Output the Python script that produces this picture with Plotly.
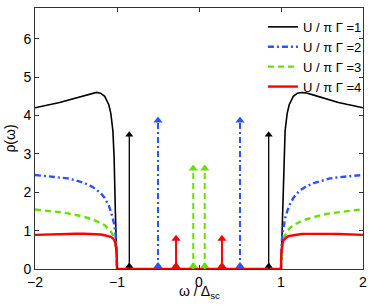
import plotly.graph_objects as go

# Continuum (|omega| >= 1); spectrum is symmetric in omega
omega_pos = [1.0, 1.004, 1.01, 1.02, 1.035, 1.05, 1.075, 1.1, 1.15, 1.2, 1.25,
             1.3, 1.4, 1.5, 1.6, 1.7, 1.8, 1.9, 2.0]
rho_u1 = [0.0, 0.3, 0.6, 1.5, 2.9, 3.6, 4.05, 4.28, 4.5, 4.58, 4.6, 4.59, 4.53,
          4.46, 4.4, 4.34, 4.29, 4.24, 4.2]
rho_u2 = [0.0, 0.5, 0.72, 0.95, 1.18, 1.32, 1.5, 1.65, 1.85, 1.98, 2.07, 2.14,
          2.24, 2.31, 2.36, 2.39, 2.41, 2.43, 2.45]
rho_u3 = [0.0, 0.35, 0.5, 0.66, 0.8, 0.88, 0.98, 1.05, 1.14, 1.2, 1.25, 1.29,
          1.36, 1.41, 1.45, 1.48, 1.51, 1.53, 1.55]
rho_u4 = [0.0, 0.4, 0.55, 0.68, 0.76, 0.8, 0.84, 0.86, 0.88, 0.9, 0.91, 0.915,
          0.92, 0.92, 0.915, 0.91, 0.905, 0.9, 0.89]

# Bound states (delta peaks) inside the gap: position and weight
peak_pos = [0.85, 0.5, 0.07, 0.28]
peak_height = [3.5, 3.87, 2.62, 0.79]

x_ticks = [-2, -1, 0, 1, 2]
x_ticktext = ["\u22122", "\u22121", "0", "1", "2"]
y_ticks = [0, 1, 2, 3, 4, 5, 6]

labels = ["U / \u03c0 \u0393 =1", "U / \u03c0 \u0393 =2", "U / \u03c0 \u0393 =3", "U / \u03c0 \u0393 =4"]
colors = ["#000000", "#2a52ff", "#66e000", "#ff0000"]
dashes = ["solid", "6px,3px,2px,3px", "6px,4px", "solid"]
widths = [1.6, 2.4, 2.4, 2.4]
arrow_widths = [1.3, 2.0, 2.0, 2.0]
series = [rho_u1, rho_u2, rho_u3, rho_u4]
FONT = "Liberation Sans, Arial, Helvetica"

fig = go.Figure()

for i, rho in enumerate(series):
    xs = [-w for w in reversed(omega_pos)]
    ys = list(reversed(rho))
    if i == 3:
        xs = xs + omega_pos
        ys = ys + rho
    else:
        xs = xs + [None] + omega_pos
        ys = ys + [None] + rho
    fig.add_trace(go.Scatter(
        x=xs, y=ys, mode="lines", name=labels[i],
        line=dict(color=colors[i], width=widths[i], dash=dashes[i]),
        connectgaps=False,
    ))

for i in range(4):
    msize = 7 if i == 0 else 8
    for s in (-1, 1):
        p = s * peak_pos[i]
        h = peak_height[i]
        fig.add_trace(go.Scatter(
            x=[p, p], y=[0, h], mode="lines", showlegend=False,
            line=dict(color=colors[i], width=arrow_widths[i], dash=dashes[i]),
            hoverinfo="skip",
        ))
        fig.add_trace(go.Scatter(
            x=[p], y=[h], mode="markers", showlegend=False,
            marker=dict(symbol="triangle-up", size=msize, color=colors[i]),
            hoverinfo="skip",
        ))
        fig.add_trace(go.Scatter(
            x=[p], y=[0], mode="markers", showlegend=False,
            marker=dict(symbol="triangle-down", angle=180, size=msize,
                        color=colors[i], standoff=3),
            hoverinfo="skip",
        ))

axis_common = dict(
    showline=True, linecolor="#333", linewidth=1, mirror="ticks",
    ticks="inside", ticklen=4, tickcolor="#333", showgrid=False, zeroline=False,
    tickfont=dict(family=FONT, size=14, color="#000"),
    ticklabeloverflow="allow",
)

fig.update_xaxes(range=[-2, 2], tickvals=x_ticks, ticktext=x_ticktext, **axis_common)
fig.update_yaxes(range=[0, 6.8], tickvals=y_ticks,
                 title=dict(text="\u03c1(\u03c9)", standoff=4,
                            font=dict(family=FONT, size=14, color="#000")),
                 **axis_common)

fig.add_annotation(
    text="\u03c9 / \u0394<sub>sc</sub>", xref="paper", yref="paper",
    x=0.5, y=0, xanchor="center", yanchor="top", yshift=-12,
    showarrow=False, font=dict(family=FONT, size=14, color="#000"),
)

fig.update_layout(
    width=374, height=307,
    margin=dict(l=35, r=7, t=8, b=38),
    plot_bgcolor="white", paper_bgcolor="white",
    legend=dict(x=1.012, y=0.985, xanchor="right", yanchor="top",
                bgcolor="rgba(255,255,255,0)", borderwidth=0,
                font=dict(family=FONT, size=13, color="#000"),
                itemwidth=30, tracegroupgap=0),
    showlegend=True,
)

fig.write_html("out.html", config={"displayModeBar": False},
               post_script="document.body.style.margin='0';document.body.style.padding='0';")
